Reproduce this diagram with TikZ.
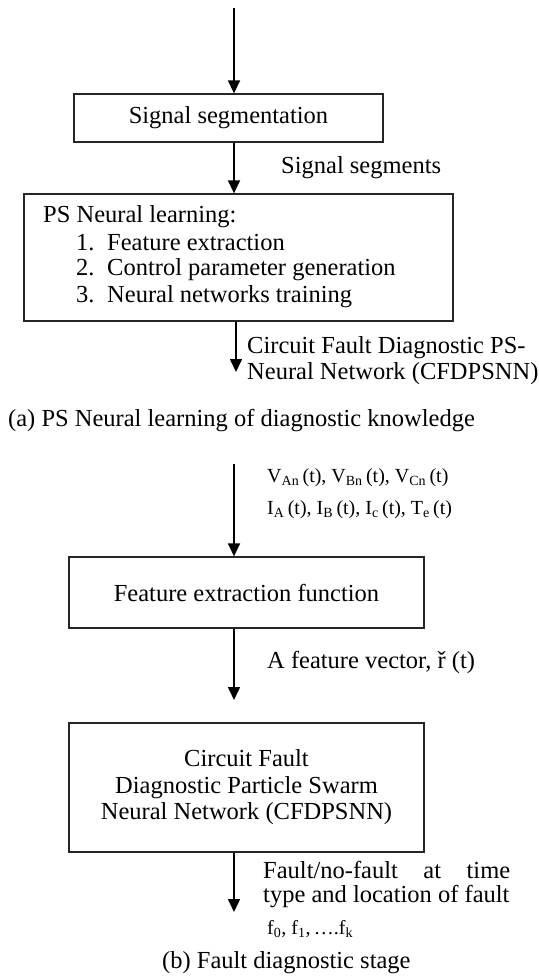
\documentclass[tikz,border=0pt]{standalone}
\usepackage{fontspec}
\setmainfont{Liberation Serif}
\usetikzlibrary{arrows.meta}
\begin{document}
\begin{tikzpicture}[x=1pt,y=-1pt,
  font=\fontsize{24.5}{26.5}\selectfont,
  box/.style={draw=black!85, line width=1.3pt, inner sep=0pt},
  arr/.style={-{Triangle[length=13pt,width=12pt]}, line width=1.6pt},
  lbl/.style={inner sep=0pt, anchor=west},
  small/.style={inner sep=0pt, anchor=west, font=\fontsize{20}{22}\selectfont}]
\useasboundingbox (0,0) rectangle (538,976);

% ---- part (a) ----
\node[box, minimum width=309pt, minimum height=48pt] (ss) at (228.5,118) {Signal segmentation};
\node[box, minimum width=429pt, minimum height=127pt] (ps) at (238.5,257.5) {};
\node[lbl] (pst) at (43,217) {PS Neural learning:};
\node[lbl] (ps1) at (76,243) {\makebox[31pt][l]{1.}Feature extraction};
\node[lbl] (ps2) at (76,270) {\makebox[31pt][l]{2.}Control parameter generation};
\node[lbl] (ps3) at (76,297) {\makebox[31pt][l]{3.}Neural networks training};

\coordinate (a0) at (234,8);
\coordinate (a1) at (236,372);
\draw[arr] (a0) -- (a0 |- ss.north);
\draw[arr] (ss.south -| a0) -- (ps.north -| a0);
\draw[arr] (ps.south -| a1) -- (a1);

\node[lbl] (sseg) at (281,168) {Signal segments};
\node[lbl, align=left] (cfdl) at (247,360.5) {Circuit Fault Diagnostic PS-\\Neural Network (CFDPSNN)};
\node[lbl] (capa) at (8,421) {(a) PS Neural learning of diagnostic knowledge};

% ---- part (b) ----
\node[box, minimum width=355pt, minimum height=71pt] (fe) at (246.5,592.5) {Feature extraction function};
\node[box, minimum width=355pt, minimum height=129pt, align=center] (cf) at (246.5,787.5)
  {Circuit Fault\\Diagnostic Particle Swarm\\Neural Network (CFDPSNN)};

\coordinate (b0) at (234,464);
\coordinate (b1) at (234,700);
\coordinate (b2) at (234,912);
\draw[arr] (b0) -- (b0 |- fe.north);
\draw[arr] (fe.south -| b1) -- (b1);
\draw[arr] (cf.south -| b2) -- (b2);

\node[small] (vin) at (267,478) {V\textsubscript{An}\,(t), V\textsubscript{Bn}\,(t), V\textsubscript{Cn}\,(t)};
\node[small] (iin) at (267,510) {I\textsubscript{A}\,(t), I\textsubscript{B}\,(t), I\textsubscript{c}\,(t), T\textsubscript{e}\,(t)};
\node[lbl] (fv) at (267,662) {A feature vector, ř (t)};
\node[lbl] (fo1) at (263,870) {\hbox to 247pt{Fault/no-fault\hfill at\hfill time}};
\node[lbl] (fo2) at (263,897) {type and location of fault};
\node[small] (fo3) at (267,929) {f\textsubscript{0}, f\textsubscript{1},\,….f\textsubscript{k}};
\node[lbl] (capb) at (162,963) {(b) Fault diagnostic stage};
\end{tikzpicture}
\end{document}
